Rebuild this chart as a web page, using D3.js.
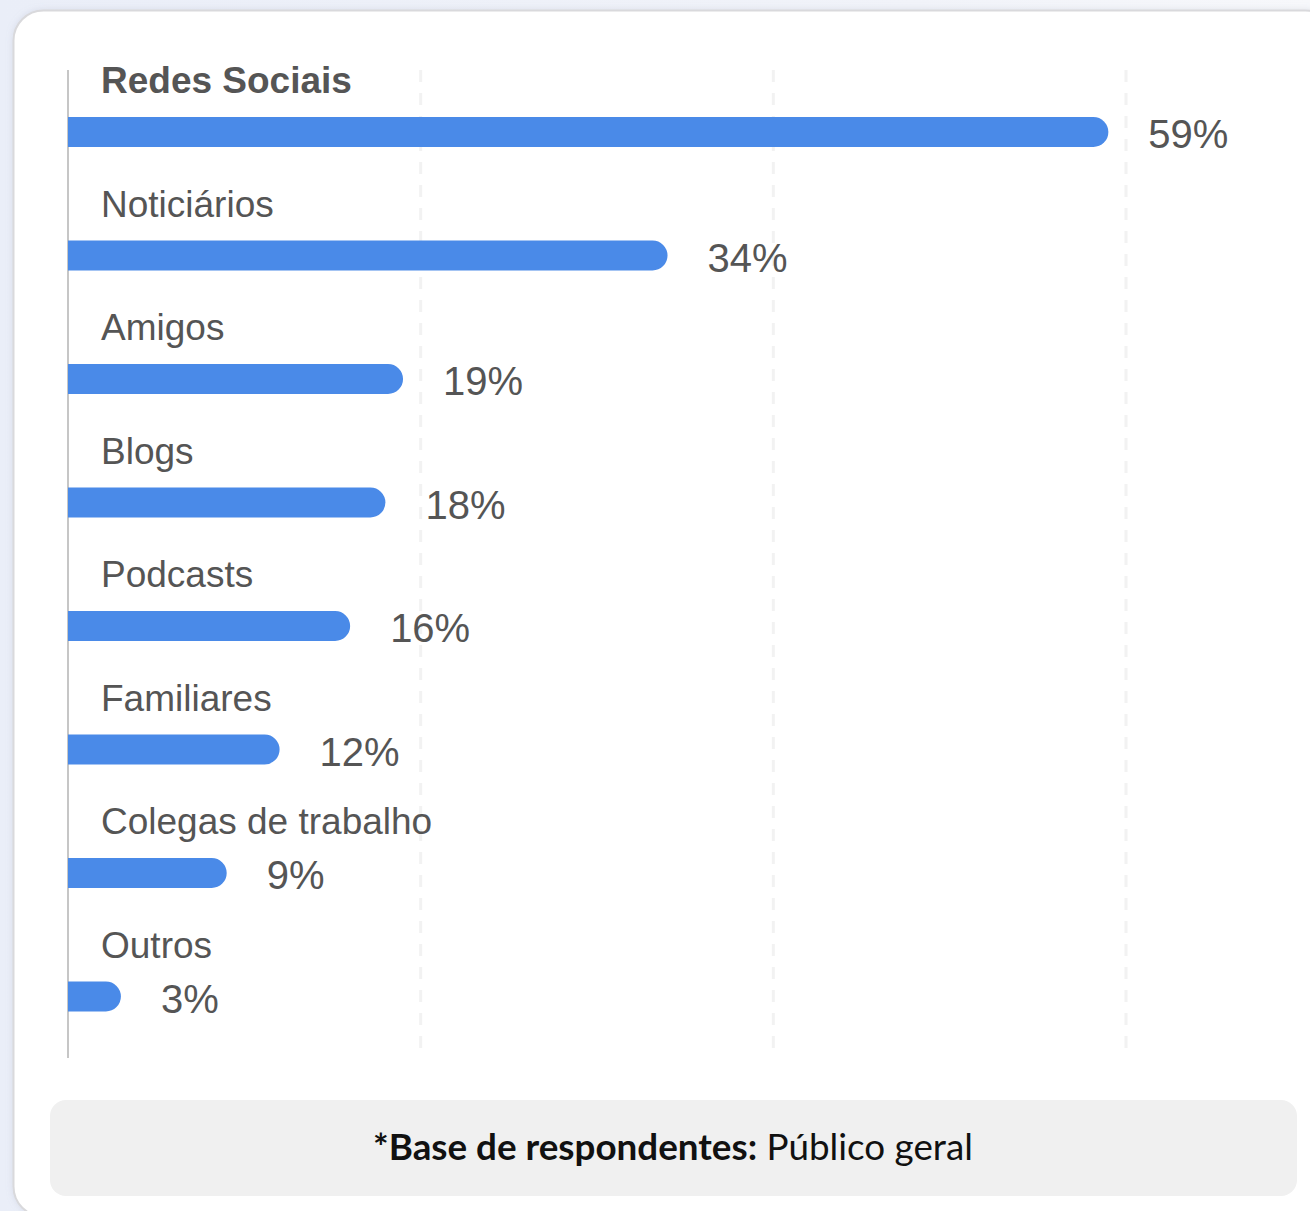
<!DOCTYPE html>
<html>
<head>
<meta charset="utf-8">
<script src="https://cdn.jsdelivr.net/npm/d3@7"></script>
<style>
  html, body { margin: 0; padding: 0; }
  body { width: 1310px; height: 1211px; overflow: hidden; background: #eef1f8; }
  svg { display: block; }
</style>
</head>
<body>
<svg id="chart" width="1310" height="1211"></svg>
<script>
// Fontes de informação citadas pelos respondentes (%)
const categories = ["Redes Sociais", "Noticiários", "Amigos", "Blogs", "Podcasts", "Familiares", "Colegas de trabalho", "Outros"];
const values = [59, 34, 19, 18, 16, 12, 9, 3];
const gridTicks = [20, 40, 60];
const footnoteBold = "*Base de respondentes:";
const footnoteText = " Público geral";

const svg = d3.select("#chart");
const W = 1310, H = 1211;

// page backdrop
const defs = svg.append("defs");
const bg = defs.append("linearGradient").attr("id", "bg").attr("x1", 0).attr("y1", 0).attr("x2", 1).attr("y2", 0);
bg.append("stop").attr("offset", "0%").attr("stop-color", "#eaeef8");
bg.append("stop").attr("offset", "70%").attr("stop-color", "#f1f3f9");
bg.append("stop").attr("offset", "100%").attr("stop-color", "#f7f8fb");
svg.append("rect").attr("width", W).attr("height", H).attr("fill", "url(#bg)");

const shadow = defs.append("filter").attr("id", "shadow").attr("x", "-5%").attr("y", "-5%").attr("width", "110%").attr("height", "110%");
shadow.append("feDropShadow").attr("dx", 0).attr("dy", 0).attr("stdDeviation", 3).attr("flood-color", "#9aa3b5").attr("flood-opacity", 0.25);

// card
svg.append("rect")
  .attr("x", 13.5).attr("y", 10.5).attr("width", 1322).attr("height", 1206)
  .attr("rx", 30).attr("ry", 30)
  .attr("fill", "#ffffff").attr("stroke", "#d9d9dc").attr("stroke-width", 2)
  .attr("filter", "url(#shadow)");

// scales
const plotTop = 70, plotBottom = 1058;
const x = d3.scaleLinear().domain([0, 60]).range([68, 1126]);
const y = d3.scaleBand().domain(categories).range([plotTop, plotTop + 123.5 * categories.length]).paddingInner(0);
const barOffset = 47, barH = 30;

// dashed gridlines
svg.append("g").selectAll("line").data(gridTicks).join("line")
  .attr("x1", d => x(d)).attr("x2", d => x(d))
  .attr("y1", plotTop).attr("y2", plotBottom)
  .attr("stroke", "#f2f2f2").attr("stroke-width", 3)
  .attr("stroke-dasharray", "12 11");

// baseline axis
svg.append("line")
  .attr("x1", x(0)).attr("x2", x(0))
  .attr("y1", plotTop).attr("y2", plotBottom)
  .attr("stroke", "#c6c6c6").attr("stroke-width", 2);

// bars: square on the axis, fully rounded at the end
function barPath(v, top) {
  const x0 = x(0), x1 = x(v), r = barH / 2;
  return `M${x0},${top} H${x1 - r} A${r},${r} 0 0 1 ${x1 - r},${top + barH} H${x0} Z`;
}
const rows = svg.append("g").selectAll("g").data(categories.map((c, i) => ({ c, v: values[i], i }))).join("g");

rows.append("path")
  .attr("d", d => barPath(d.v, y(d.c) + barOffset))
  .attr("fill", "#4a8ae8");

rows.append("text")
  .attr("x", 101)
  .attr("y", d => y(d.c) + barOffset - 24)
  .attr("font-family", "'Liberation Sans', Arial, sans-serif")
  .attr("font-size", 37)
  .attr("font-weight", d => d.i === 0 ? 700 : 400)
  .attr("fill", "#555555")
  .text(d => d.c);

rows.append("text")
  .attr("x", d => x(d.v) + 40)
  .attr("y", d => y(d.c) + barOffset + barH + 1)
  .attr("font-family", "'Liberation Sans', Arial, sans-serif")
  .attr("font-size", 40)
  .attr("fill", "#555555")
  .text(d => d.v + "%");

// footnote box
svg.append("rect")
  .attr("x", 50).attr("y", 1100).attr("width", 1247).attr("height", 96)
  .attr("rx", 16).attr("ry", 16)
  .attr("fill", "#f0f0f0");

const note = svg.append("text")
  .attr("x", 673).attr("y", 1160)
  .attr("text-anchor", "middle")
  .attr("font-family", "Lato, 'Open Sans', sans-serif")
  .attr("font-size", 32)
  .attr("fill", "#111111");
note.append("tspan").attr("font-weight", 700).text(footnoteBold);
note.append("tspan").attr("font-weight", 400).text(footnoteText);
// fit the footnote to its row width
const len = note.node().getComputedTextLength();
note.attr("font-size", 32 * 600 / len);
</script>
</body>
</html>
